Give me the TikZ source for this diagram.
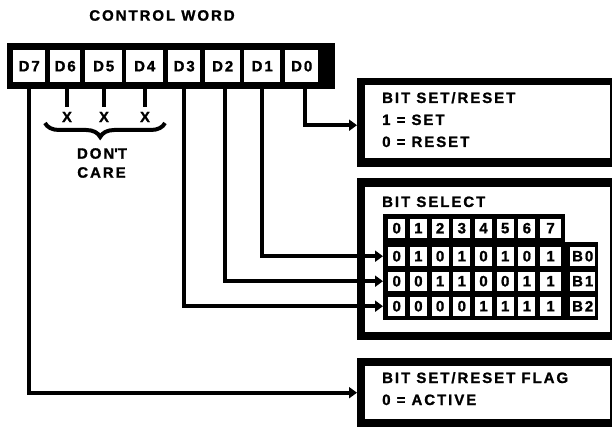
\documentclass[tikz,border=0pt]{standalone}
\usepackage{fontspec}
\setmainfont{Liberation Sans}
\newfontfamily\widefont[LetterSpace=13, BoldFeatures={FakeBold=1.2}]{Liberation Sans}
\newfontfamily\cellfont[BoldFeatures={FakeBold=1.2}]{Liberation Sans}
\usetikzlibrary{positioning,arrows.meta,decorations.pathreplacing}

\begin{document}
\begin{tikzpicture}[x=1pt, y=-1pt,
  lbl/.style={font=\widefont\bfseries\fontsize{15}{17}\selectfont, inner sep=0pt},
  digit/.style={font=\cellfont\bfseries\fontsize{15}{17}\selectfont, inner sep=0pt},
  blk/.style={fill=black, inner sep=0pt, anchor=north west},
  wht/.style={fill=white, inner sep=0pt, anchor=north west},
  regcell/.style={wht, minimum height=32pt, lbl},
  bitcell/.style={wht, minimum height=19pt, digit},
  wire/.style={line width=4.3pt, -{Triangle[length=8pt,width=11pt]}},
  stub/.style={line width=4.3pt},
  brace/.style={line width=4pt, decorate,
                decoration={brace, mirror, amplitude=14pt, aspect=0.46}},
]
  \useasboundingbox (0,0) rectangle (612,427);

  % control word register
  \node[lbl] (title) at (162,15.5) {CONTROL WORD};
  \node[blk, minimum width=328pt, minimum height=46pt] (ctrlword) at (7,43) {};
  \foreach \b/\lft/\rgt in {7/13/45, 6/50/80, 5/85/122, 4/126/163,
                            3/168/200, 2/205/240, 1/244/280, 0/285/318}{
    \pgfmathsetmacro{\w}{\rgt-\lft}
    \node[regcell, minimum width=\w pt] (d\b) at (\lft,50) {D\b};
  }

  % don't care bits
  \foreach \b/\xx in {6/67, 5/104, 4/145}{
    \node[digit] (x\b) at (\xx,117) {X};
    \draw[stub, shorten >=5pt] (d\b.south -| x\b) -- (x\b.north);
  }
  \coordinate (bl) at (45,123);
  \coordinate (br) at (165,123);
  \draw[brace] (bl) -- (br);
  \node[lbl] (dont) at (102,153.5) {DON\textquotesingle T};
  \node[lbl] (care) at (101.5,172.5) {CARE};

  % bit set/reset box
  \node[blk, minimum width=255pt, minimum height=89pt] (setbox) at (357,78) {};
  \node[wht, minimum width=245pt, minimum height=73pt] (setin) at (365,85) {};
  \node[lbl, anchor=base west] (set1) at (382,103) {BIT SET/RESET};
  \node[lbl, anchor=base west] (set2) at (382,125) {1 = SET};
  \node[lbl, anchor=base west] (set3) at (382,147) {0 = RESET};

  % bit select box
  \node[blk, minimum width=255pt, minimum height=162pt] (selbox) at (357,178) {};
  \node[wht, minimum width=245pt, minimum height=145pt] (selin) at (365,187) {};
  \node[lbl, anchor=base west] (sel1) at (382,207) {BIT SELECT};
  \node[blk, minimum width=182pt, minimum height=28pt] (selhead) at (383,214) {};
  \node[blk, minimum width=215pt, minimum height=78pt] (selrows) at (383,241.5) {};
  \foreach \c in {0,...,7}{
    \pgfmathsetmacro{\w}{\c==7 ? 21 : 17}
    \node[bitcell, minimum width=\w pt] (h\c) at ({388+21.7*\c},218.5) {\c};
  }
  \foreach \r/\bits in {0/{0,1,0,1,0,1,0,1}, 1/{0,0,1,1,0,0,1,1},
                        2/{0,0,0,0,1,1,1,1}}{
    \foreach \v [count=\c from 0] in \bits{
      \pgfmathsetmacro{\w}{\c==7 ? 21 : 17}
      \node[bitcell, minimum width=\w pt] (r\r c\c) at ({388+21.7*\c},{246.5+25*\r}) {\v};
    }
    \node[bitcell, minimum width=25pt, lbl] (b\r) at (570,{246.5+25*\r}) {B\r};
  }

  % flag box
  \node[blk, minimum width=255pt, minimum height=69pt] (flagbox) at (357,358) {};
  \node[wht, minimum width=245pt, minimum height=53pt] (flagin) at (365,366) {};
  \node[lbl, anchor=base west] (flag1) at (382,383) {BIT SET/RESET FLAG};
  \node[lbl, anchor=base west] (flag2) at (382,405) {0 = ACTIVE};

  % wires
  \draw[wire] ([xshift=3.5pt]d0.south) |- ([yshift=-2.5pt]setbox.west);
  \draw[wire] (d1.south) |- ([xshift=-5pt]r0c0.west);
  \draw[wire] ([xshift=2.5pt]d2.south) |- ([xshift=-5pt]r1c0.west);
  \draw[wire] (d3.south) |- ([xshift=-5pt]r2c0.west);
  \draw[wire] (d7.south) |- (flagbox.west);
\end{tikzpicture}
\end{document}
